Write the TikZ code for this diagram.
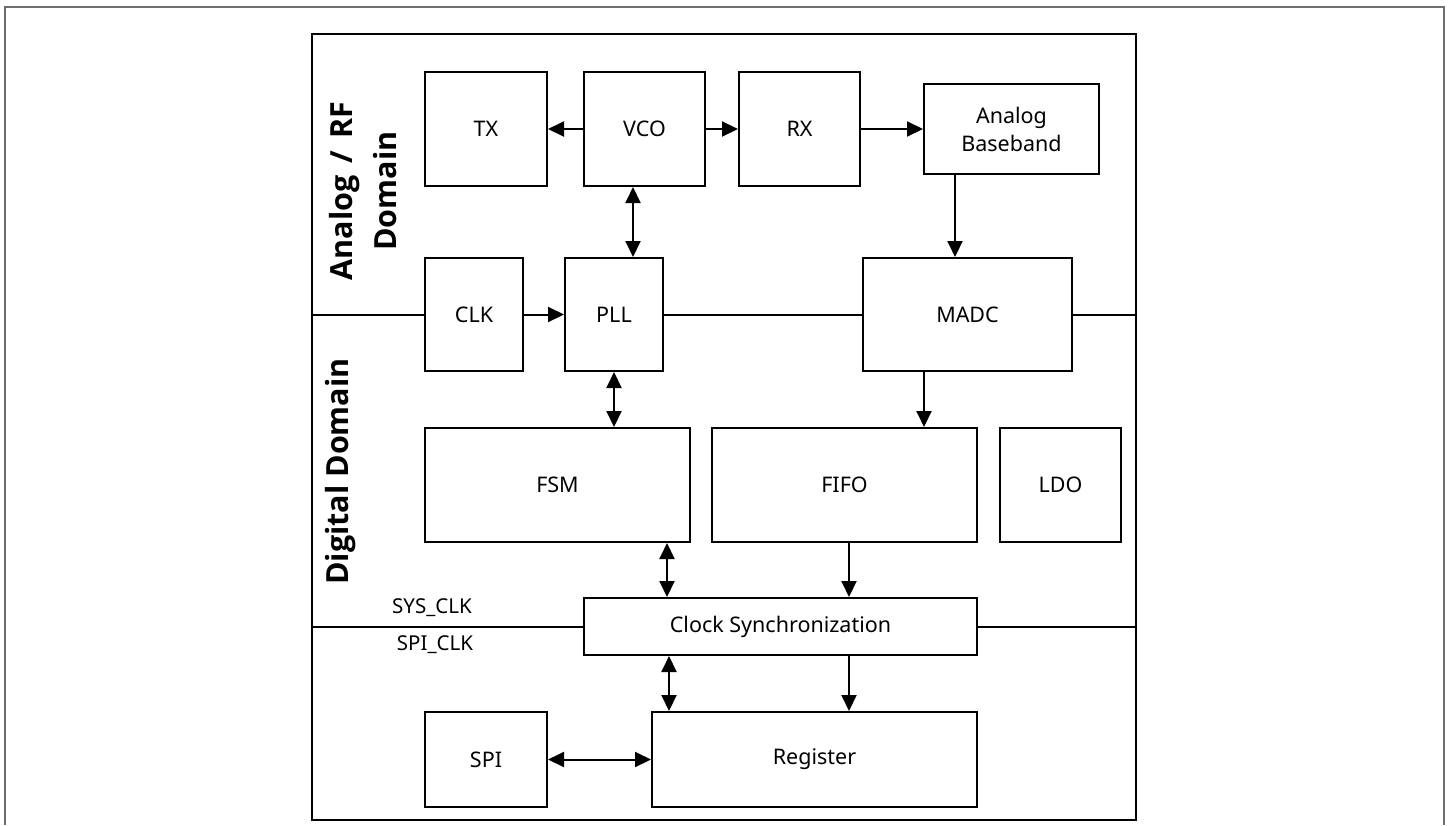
\documentclass[tikz,border=0pt]{standalone}
\usepackage{fontspec}
\setmainfont{Noto Sans}
\newfontfamily\domfont{Open Sans}
\usetikzlibrary{arrows.meta}
\begin{document}
\begin{tikzpicture}[x=1pt,y=-1pt,
  blk/.style={draw=black,line width=2pt,rectangle,inner sep=0pt,font=\fontsize{21.5}{28}\selectfont},
  conn/.style={line width=2pt},
  arr/.style={conn,-{Triangle[length=16pt,width=15pt]}},
  darr/.style={conn,{Triangle[length=16pt,width=15pt]}-{Triangle[length=16pt,width=15pt]}},
  dom/.style={rotate=90,align=center,font=\domfont\bfseries\fontsize{30.5}{44}\selectfont},
  sig/.style={font=\fontsize{20.5}{24}\selectfont}]
\useasboundingbox (0,0) rectangle (1450,825);
% outer gray frame
\draw[line width=1.6pt,draw={rgb,255:red,110;green,110;blue,110}] (5,825) -- (5,7) -- (1444,7) -- (1444,825);
% main frame
\node[draw=black,line width=2.8pt,minimum width=824pt,minimum height=786pt,inner sep=0pt] (frame) at (724,427) {};
% blocks
\node[blk,minimum width=122pt,minimum height=114pt] (TX) at (486,129) {TX};
\node[blk,minimum width=121pt,minimum height=114pt] (VCO) at (644.5,129) {VCO};
\node[blk,minimum width=121pt,minimum height=114pt] (RX) at (799.5,129) {RX};
\node[blk,minimum width=175pt,minimum height=90pt,align=center] (AB) at (1011.5,129) {Analog\\Baseband};
\node[blk,minimum width=98pt,minimum height=113pt] (CLK) at (474,314.5) {CLK};
\node[blk,minimum width=98pt,minimum height=113pt] (PLL) at (614,314.5) {PLL};
\node[blk,minimum width=209pt,minimum height=113pt] (MADC) at (967.5,314.5) {MADC};
\node[blk,minimum width=265pt,minimum height=114pt] (FSM) at (557.5,485) {FSM};
\node[blk,minimum width=265pt,minimum height=114pt] (FIFO) at (844.5,485) {FIFO};
\node[blk,minimum width=121pt,minimum height=114pt] (LDO) at (1060.5,485) {LDO};
\node[blk,minimum width=393pt,minimum height=57pt] (CS) at (780.5,626.5) {Clock Synchronization};
\node[blk,minimum width=122pt,minimum height=95pt] (SPI) at (486,759.5) {SPI};
\node[blk,minimum width=325pt,minimum height=95pt] (REG) at (814.5,759.5) {Register};
% domain labels
\node[dom] (anl) at (363,191) {Analog\hspace{0.4em}/\hspace{0.4em}RF\\Domain};
\node[dom] (dig) at (341,471.5) {Digital Domain};
% signal labels
\node[sig] (sys) at (432,608) {SYS\_CLK};
\node[sig] (spic) at (435,645) {SPI\_CLK};
% x positions of vertical connectors
\coordinate (xa) at (633,0);
\coordinate (xb) at (955,0);
\coordinate (xc) at (614,0);
\coordinate (xd) at (924,0);
\coordinate (xe) at (849,0);
\coordinate (xf) at (667,0);
\coordinate (xg) at (669,0);
% connectors
\draw[arr] (VCO.west) -- (TX.east);
\draw[arr] (VCO.east) -- (RX.west);
\draw[arr] (RX.east) -- (AB.west);
\draw[darr] (VCO.south -| xa) -- (PLL.north -| xa);
\draw[arr] (AB.south -| xb) -- (MADC.north -| xb);
\draw[conn] (frame.west |- CLK.west) -- (CLK.west);
\draw[arr] (CLK.east) -- (PLL.west);
\draw[conn] (PLL.east) -- (MADC.west);
\draw[conn] (MADC.east) -- (frame.east |- MADC.east);
\draw[darr] (PLL.south -| xc) -- (FSM.north -| xc);
\draw[arr] (MADC.south -| xd) -- (FIFO.north -| xd);
\draw[darr] (FSM.south -| xf) -- (CS.north -| xf);
\draw[arr] (FIFO.south -| xe) -- (CS.north -| xe);
\draw[conn] (frame.west |- CS.west) -- (CS.west);
\draw[conn] (CS.east) -- (frame.east |- CS.east);
\draw[darr] (CS.south -| xg) -- (REG.north -| xg);
\draw[arr] (CS.south -| xe) -- (REG.north -| xe);
\draw[darr] (SPI.east) -- (REG.west);
\end{tikzpicture}
\end{document}
